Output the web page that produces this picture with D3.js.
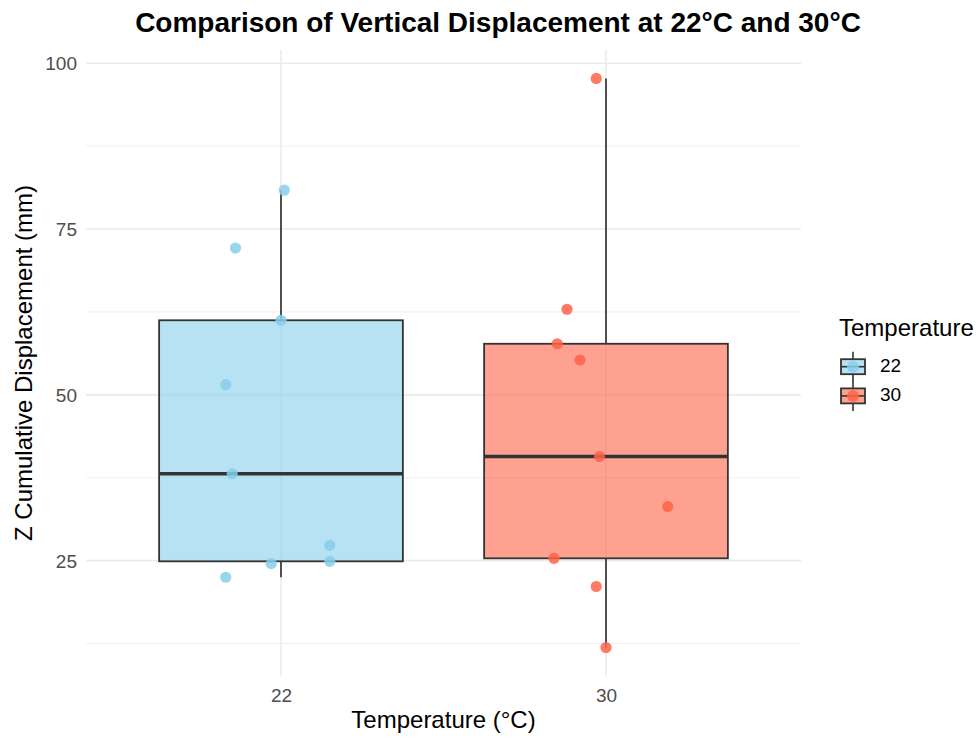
<!DOCTYPE html>
<html>
<head>
<meta charset="utf-8">
<script src="https://cdn.jsdelivr.net/npm/d3@7"></script>
<style>
  html, body { margin: 0; padding: 0; background: #fff; }
  svg { display: block; font-family: "Liberation Sans", Arial, sans-serif; }
</style>
</head>
<body>
<svg id="chart" width="979" height="738"></svg>
<script>
// ---- data ----
const categories = ["22", "30"];
const colors = ["#87CEEB", "#FF6347"];
const values22 = [80.85, 72.14, 61.24, 51.54, 38.1, 27.3, 24.9, 24.55, 22.5];
const jitter22 = [0.01, -0.14, 0.0, -0.17, -0.15, 0.15, 0.15, -0.03, -0.17];
const values30 = [97.7, 62.9, 57.7, 55.25, 40.7, 33.15, 25.35, 21.1, 11.9];
const jitter30 = [-0.03, -0.12, -0.15, -0.08, -0.02, 0.19, -0.16, -0.03, 0.0];
const yTicks = [25, 50, 75, 100];
const yMinor = [12.5, 37.5, 62.5, 87.5];

const groups = [
  { cat: "22", values: values22, jitter: jitter22, color: colors[0] },
  { cat: "30", values: values30, jitter: jitter30, color: colors[1] }
];

const svg = d3.select("#chart");
const panel = { left: 86, right: 801, top: 50, bottom: 676 };
const FONT = "Liberation Sans, Arial, sans-serif";

const allVals = values22.concat(values30);
const [mn, mx] = d3.extent(allVals);
const pad = (mx - mn) * 0.05;
const y = d3.scaleLinear().domain([mn - pad, mx + pad]).range([panel.bottom, panel.top]);
const x = d3.scalePoint().domain(categories).range([panel.left, panel.right]).padding(0.6);
const step = x.step();
const boxW = step * 0.75;

// grid
const g = svg.append("g");
g.selectAll(".minor").data(yMinor).join("line")
  .attr("x1", panel.left).attr("x2", panel.right)
  .attr("y1", d => y(d)).attr("y2", d => y(d))
  .attr("stroke", "#EBEBEB").attr("stroke-width", 0.8);
g.selectAll(".major").data(yTicks).join("line")
  .attr("x1", panel.left).attr("x2", panel.right)
  .attr("y1", d => y(d)).attr("y2", d => y(d))
  .attr("stroke", "#EBEBEB").attr("stroke-width", 1.6);
g.selectAll(".vmajor").data(categories).join("line")
  .attr("x1", d => x(d)).attr("x2", d => x(d))
  .attr("y1", panel.top).attr("y2", panel.bottom)
  .attr("stroke", "#EBEBEB").attr("stroke-width", 1.6);

// boxes
function stats(vals) {
  const s = vals.slice().sort(d3.ascending);
  const q1 = d3.quantile(s, 0.25), med = d3.quantile(s, 0.5), q3 = d3.quantile(s, 0.75);
  const iqr = q3 - q1;
  const lo = d3.min(s.filter(v => v >= q1 - 1.5 * iqr));
  const hi = d3.max(s.filter(v => v <= q3 + 1.5 * iqr));
  return { q1, med, q3, lo, hi };
}

groups.forEach(gr => {
  const st = stats(gr.values);
  const cx = x(gr.cat);
  const bg = svg.append("g");
  bg.append("line").attr("x1", cx).attr("x2", cx).attr("y1", y(st.q3)).attr("y2", y(st.hi))
    .attr("stroke", "#333333").attr("stroke-width", 1.7);
  bg.append("line").attr("x1", cx).attr("x2", cx).attr("y1", y(st.q1)).attr("y2", y(st.lo))
    .attr("stroke", "#333333").attr("stroke-width", 1.7);
  bg.append("rect").attr("x", cx - boxW / 2).attr("width", boxW)
    .attr("y", y(st.q3)).attr("height", y(st.q1) - y(st.q3))
    .attr("fill", gr.color).attr("fill-opacity", 0.6)
    .attr("stroke", "#333333").attr("stroke-width", 1.8);
  bg.append("line").attr("x1", cx - boxW / 2).attr("x2", cx + boxW / 2)
    .attr("y1", y(st.med)).attr("y2", y(st.med))
    .attr("stroke", "#333333").attr("stroke-width", 3.4);
});

// points
groups.forEach(gr => {
  svg.append("g").selectAll("circle").data(gr.values).join("circle")
    .attr("cx", (d, i) => x(gr.cat) + gr.jitter[i] * step)
    .attr("cy", d => y(d))
    .attr("r", 5.6)
    .attr("fill", gr.color).attr("fill-opacity", 0.85);
});

// axes
const yAxis = d3.axisLeft(y).tickValues(yTicks).tickSize(0).tickPadding(9);
const ya = svg.append("g").attr("transform", `translate(${panel.left},0)`).call(yAxis);
ya.select(".domain").remove();
ya.selectAll("text").attr("font-size", 19).attr("fill", "#4D4D4D")
  .attr("font-family", FONT).attr("dy", "0.35em");

const xAxis = d3.axisBottom(x).tickSize(0);
const xa = svg.append("g").attr("transform", `translate(0,${panel.bottom})`).call(xAxis);
xa.select(".domain").remove();
xa.selectAll("text").attr("font-size", 19).attr("fill", "#4D4D4D")
  .attr("font-family", FONT).attr("y", 25.7).attr("dy", 0);

// titles
svg.append("text").attr("x", 498).attr("y", 32).attr("text-anchor", "middle")
  .attr("font-size", 28).attr("font-weight", "bold").attr("fill", "#000")
  .text("Comparison of Vertical Displacement at 22\u00B0C and 30\u00B0C");

svg.append("text").attr("x", (panel.left + panel.right) / 2).attr("y", 728.3)
  .attr("text-anchor", "middle").attr("font-size", 24).attr("fill", "#000")
  .text("Temperature (\u00B0C)");

svg.append("text")
  .attr("transform", `translate(31.5,${(panel.top + panel.bottom) / 2}) rotate(-90)`)
  .attr("text-anchor", "middle").attr("font-size", 24).attr("fill", "#000")
  .text("Z Cumulative Displacement (mm)");

// legend
const lg = svg.append("g");
lg.append("text").attr("x", 839).attr("y", 336).attr("font-size", 24).attr("fill", "#000")
  .text("Temperature");
groups.forEach((gr, i) => {
  const cy = 366.7 + i * 29.2;
  const cx = 853;
  const kg = lg.append("g");
  kg.append("line").attr("x1", cx).attr("x2", cx).attr("y1", cy - 15).attr("y2", cy + 15)
    .attr("stroke", "#333333").attr("stroke-width", 1.6);
  kg.append("rect").attr("x", cx - 12).attr("y", cy - 7.5).attr("width", 24).attr("height", 15)
    .attr("fill", "#fff");
  kg.append("rect").attr("x", cx - 12).attr("y", cy - 7.5).attr("width", 24).attr("height", 15)
    .attr("fill", gr.color).attr("fill-opacity", 0.6)
    .attr("stroke", "#333333").attr("stroke-width", 1.8);
  kg.append("line").attr("x1", cx - 12).attr("x2", cx + 12).attr("y1", cy).attr("y2", cy)
    .attr("stroke", "#333333").attr("stroke-width", 1.6);
  kg.append("circle").attr("cx", cx).attr("cy", cy).attr("r", 6)
    .attr("fill", gr.color).attr("fill-opacity", 0.85);
  lg.append("text").attr("x", 880).attr("y", cy + 5.2).attr("font-size", 19).attr("fill", "#000")
    .text(gr.cat);
});
</script>
</body>
</html>
